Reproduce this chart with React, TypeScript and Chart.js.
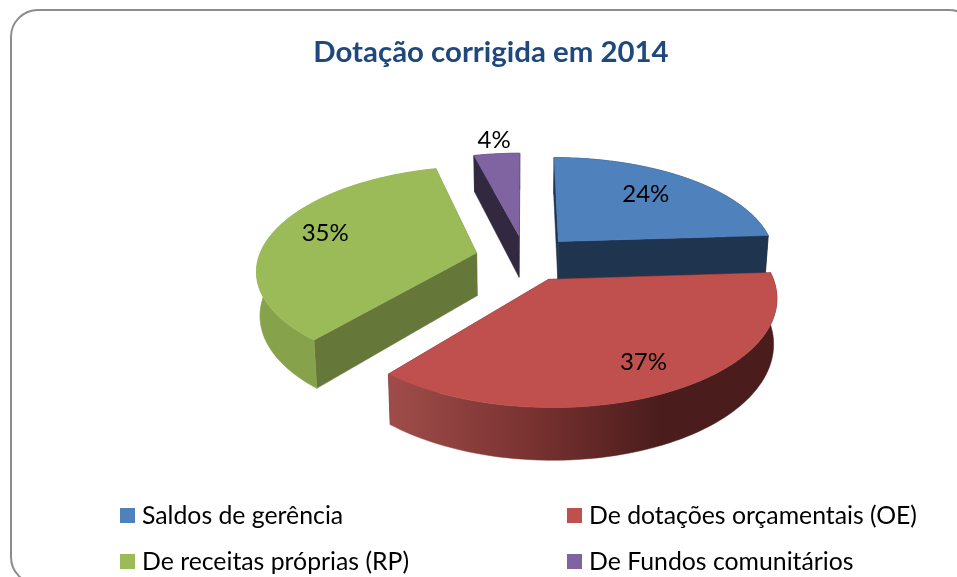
import React, { useEffect, useRef } from "react";
import { Chart, registerables } from "chart.js";

Chart.register(...registerables);

const titleText = "Dotação corrigida em 2014";
const categories = ["Saldos de gerência", "De dotações orçamentais (OE)", "De receitas próprias (RP)", "De Fundos comunitários"];
const shares = [24, 37, 35, 4];
const topColours = ["#4F81BD", "#C0504D", "#9BBB59", "#8064A2"];
const cutColours = ["#1F344F", "#4A1C1C", "#66773A", "#32283F"];
const rimColours = ["#1F344F", "#4A1C1C", "#86A34C", "#32283F"];
const labelFractions = [0.66, 0.8, 0.74, 1.13];
const drawOrder = [3, 2, 0, 1];

const FONT = "Lato, Carlito, sans-serif";
const DX = 34;
const DY_TARGET = 258;
const TILT = 0.465;
const PERSP = 0.0007;
const DEPTH = 43;
const BOTTOM_SHRINK = 0.987;
const LABEL_LIFT = 4;

const pie3d = {
  id: "pie3d",
  beforeDraw(chart: any) {
    const c = chart.ctx;
    c.save();
    c.strokeStyle = "#8C8C8C";
    c.lineWidth = 2;
    c.beginPath();
    c.roundRect(11, 10, 965, 574, 27);
    c.stroke();
    c.restore();
  },
  beforeDatasetsDraw(chart: any) {
    const c = chart.ctx;
    const arcs = chart.getDatasetMeta(0).data;
    const total = shares.reduce((a, b) => a + b, 0);

    const project = (el: any, angle: number, frac: number, low: boolean) => {
      const mid = (el.startAngle + el.endAngle) / 2;
      const off = el.options.offset;
      const mx = off * Math.cos(mid) + frac * el.outerRadius * Math.cos(angle);
      const my = off * Math.sin(mid) + frac * el.outerRadius * Math.sin(angle);
      const s = 1 / (1 - my * PERSP);
      const cx = el.x + DX;
      const cy = DY_TARGET;
      const sh = low ? BOTTOM_SHRINK : 1;
      return [cx + mx * s * sh, cy + my * TILT * s + (low ? DEPTH * s : 0)];
    };
    const poly = (pts: number[][], fill: any) => {
      c.beginPath();
      pts.forEach((p, i) => (i ? c.lineTo(p[0], p[1]) : c.moveTo(p[0], p[1])));
      c.closePath();
      c.fillStyle = fill;
      c.strokeStyle = fill;
      c.lineWidth = 0.5;
      c.fill();
      c.stroke();
    };
    const sweep = (el: any, low: boolean) => {
      const pts: number[][] = [];
      const n = 80;
      for (let i = 0; i <= n; i++) {
        const a = el.startAngle + ((el.endAngle - el.startAngle) * i) / n;
        pts.push(project(el, a, 1, low));
      }
      return pts;
    };

    c.save();
    for (const i of drawOrder) {
      const el = arcs[i];
      const apexTop = project(el, 0, 0, false);
      const apexLow = project(el, 0, 0, true);
      const top = sweep(el, false);
      const low = sweep(el, true);
      // cut faces
      poly([apexTop, top[0], low[0], apexLow], cutColours[i]);
      poly([apexTop, top[top.length - 1], low[low.length - 1], apexLow], cutColours[i]);
      // outer rim
      let rim: any = rimColours[i];
      if (i === 1) {
        const g = c.createLinearGradient(393, 0, 778, 0);
        g.addColorStop(0, "#9E4C49");
        g.addColorStop(0.35, "#7A3331");
        g.addColorStop(0.7, "#4A1C1C");
        g.addColorStop(1, "#4A1C1C");
        rim = g;
      }
      poly([...top, ...low.slice().reverse()], rim);
      // top face
      poly([apexTop, ...top], topColours[i]);
    }
    // value labels
    c.fillStyle = "#000";
    c.font = `24px ${FONT}`;
    c.textAlign = "center";
    c.textBaseline = "middle";
    arcs.forEach((el: any, i: number) => {
      const mid = (el.startAngle + el.endAngle) / 2;
      const p = project(el, mid, labelFractions[i], false);
      c.fillText(`${Math.round((shares[i] / total) * 100)}%`, p[0], p[1] - LABEL_LIFT);
    });
    // legend
    const columns = [120, 567];
    const rows = [515.5, 561.5];
    c.font = `24.8px ${FONT}`;
    c.textAlign = "left";
    categories.forEach((name, i) => {
      const x = columns[i % 2];
      const y = rows[Math.floor(i / 2)];
      c.fillStyle = topColours[i];
      c.fillRect(x, y - 7.5, 15, 15);
      c.fillStyle = "#000";
      c.fillText(name, x + 22, y + 1);
    });
    c.restore();
    return false;
  },
};

export default function App() {
  const ref = useRef<HTMLCanvasElement>(null);
  useEffect(() => {
    const chart = new Chart(ref.current!, {
      type: "pie",
      data: {
        labels: categories,
        datasets: [{ data: shares, backgroundColor: topColours, borderWidth: 0, offset: 50 }],
      },
      options: {
        responsive: false,
        animation: false,
        radius: 218,
        layout: { padding: { left: 100, right: 75, top: 35, bottom: 0 } },
        plugins: {
          legend: { display: false },
          tooltip: { enabled: false },
          title: {
            display: true,
            text: titleText,
            color: "#1F497D",
            font: { family: FONT, size: 29.4, weight: "bold" },
            padding: { top: 0, bottom: 10 },
          },
        },
      } as any,
      plugins: [pie3d as any],
    });
    return () => chart.destroy();
  }, []);
  return (
    <div style={{ position: "absolute", left: 0, top: 0, width: 957, height: 577, overflow: "hidden", background: "#fff" }}>
      <canvas ref={ref} width={957} height={577} style={{ display: "block" }} />
    </div>
  );
}
